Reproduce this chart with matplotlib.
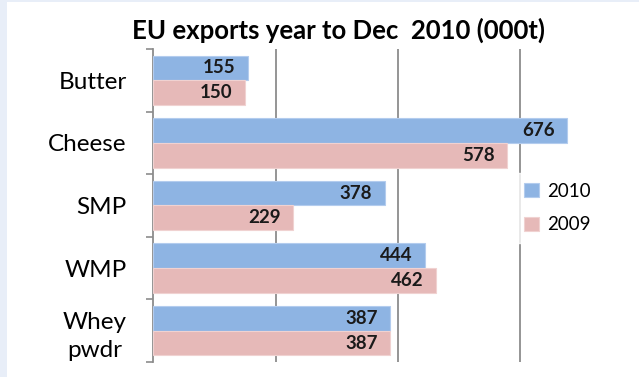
#!/usr/bin/env python3

import numpy as np
import matplotlib.pyplot as plt
from matplotlib.patches import Rectangle

products = ["Butter", "Cheese", "SMP", "WMP", "Whey\npwdr"]
exports_2010 = [155, 676, 378, 444, 387]
exports_2009 = [150, 578, 229, 462, 387]
years = ["2010", "2009"]

blue = "#8EB4E3"
pink = "#E6B9B8"
grid_grey = "#8C8C8C"

def main():
    plt.rcParams['font.family'] = ['Lato', 'DejaVu Sans']
    fig = plt.figure(figsize=(6.39, 3.77), dpi=100)
    fig.patch.set_facecolor("white")
    # light blue frame strip on the left and top
    fig.patches.append(Rectangle((0, 0), 7/639, 1, transform=fig.transFigure,
                                 facecolor="#E8EEF8", edgecolor="none", zorder=0))
    fig.patches.append(Rectangle((0, 1-2/377), 1, 2/377, transform=fig.transFigure,
                                 facecolor="#E8EEF8", edgecolor="none", zorder=0))

    ax = fig.add_axes([153/639, 1-362/377, 490/639, 313/377])
    y = np.arange(len(products))
    h = 0.395
    b1 = ax.barh(y - h/2, exports_2010, height=h, color=blue, edgecolor="#B3CCEE",
                 linewidth=0.8, label=years[0], zorder=3)
    b2 = ax.barh(y + h/2, exports_2009, height=h, color=pink, edgecolor="#F0D2D1",
                 linewidth=0.8, label=years[1], zorder=3)
    for bars, vals in ((b1, exports_2010), (b2, exports_2009)):
        for bar, v in zip(bars, vals):
            ax.text(bar.get_width() - 20, bar.get_y() + bar.get_height()/2, str(v),
                    ha="right", va="center", fontsize=13.5, fontweight="bold",
                    color="#1A1A1A", zorder=4)

    ax.set_xlim(0, 800)
    ax.set_ylim(len(products) - 0.5, -0.5)
    ax.set_xticks([200, 400, 600])
    ax.xaxis.grid(True, color=grid_grey, linewidth=1.3, zorder=1)
    ax.tick_params(axis="x", length=0, labelbottom=False)
    ax.set_yticks(y)
    ax.set_yticklabels(products, fontsize=17.5, multialignment="center",
                       linespacing=1.45)
    ax.tick_params(axis="y", which="major", length=0, pad=19)
    ax.set_yticks(np.arange(len(products) + 1) - 0.5, minor=True)
    ax.tick_params(axis="y", which="minor", length=5, width=1.2, color=grid_grey)
    for s in ("top", "right", "bottom"):
        ax.spines[s].set_visible(False)
    ax.spines["left"].set_color(grid_grey)
    ax.spines["left"].set_linewidth(1.3)
    ax.set_axisbelow(True)

    leg = ax.legend(loc="center left", bbox_to_anchor=((515 - 153)/490, 1 - (208 - 49)/313),
                    bbox_transform=ax.transAxes, frameon=True, fontsize=13.5,
                    handlelength=0.8, handleheight=0.8, handletextpad=0.4,
                    labelspacing=0.9, borderpad=0.5, borderaxespad=0, fancybox=False)
    leg.get_frame().set_edgecolor("white")
    leg.get_frame().set_facecolor("white")
    leg.set_zorder(5)

    fig.text(338/639, 1-30/377, "EU exports year to Dec  2010 (000t)",
             ha="center", va="center", fontsize=18.5, fontweight="bold")

    fig.savefig("out.png", dpi=100)

if __name__ == "__main__":
    main()
